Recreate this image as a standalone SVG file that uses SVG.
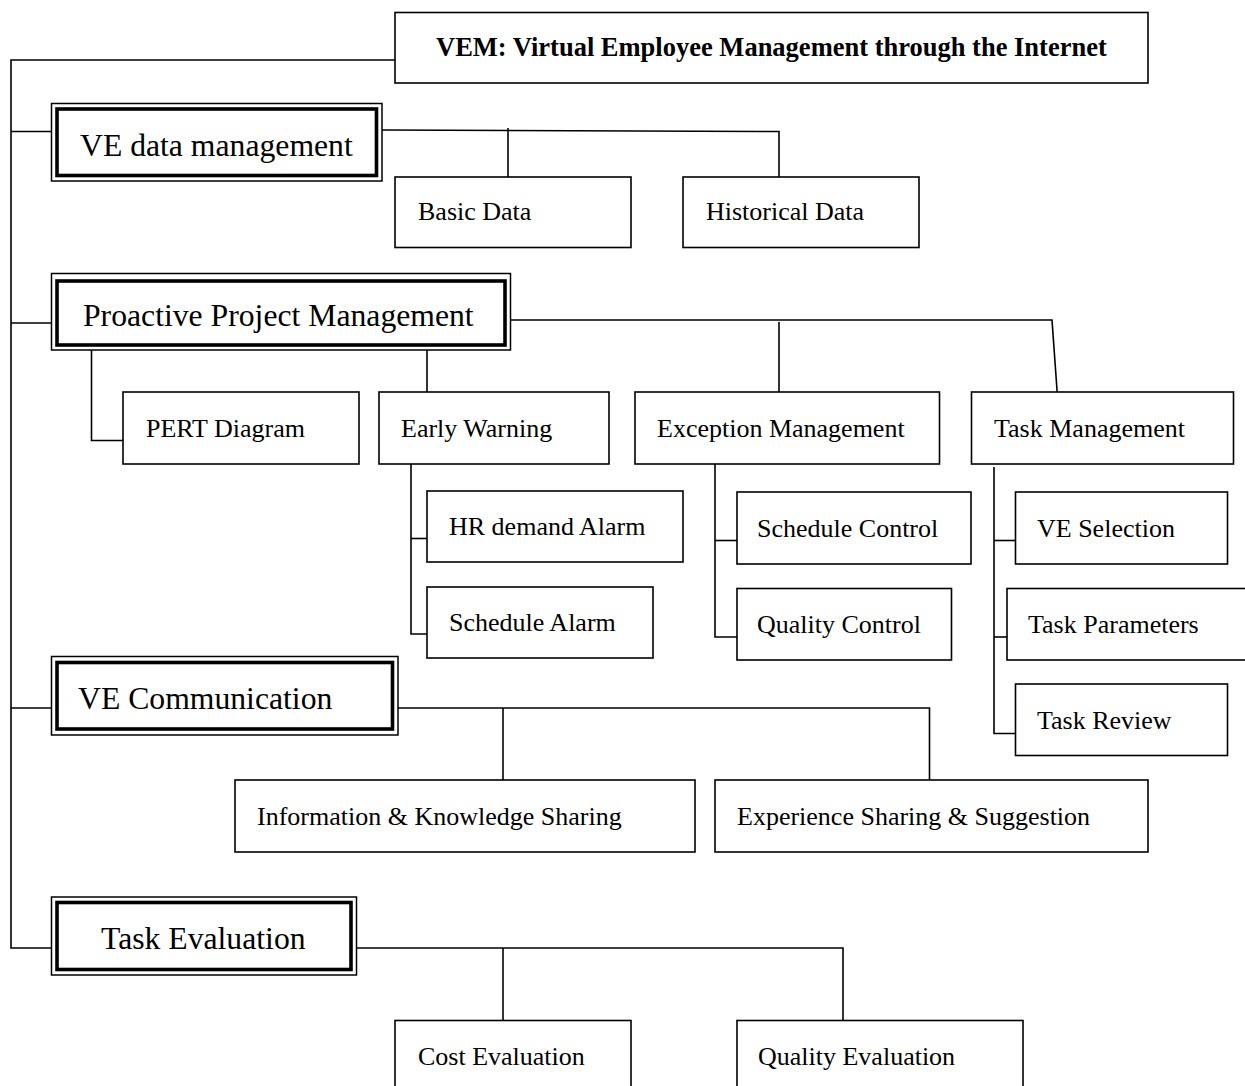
<svg xmlns="http://www.w3.org/2000/svg" width="1245" height="1086" viewBox="0 0 1245 1086">
<style>
.box{fill:#fff;stroke:#000;stroke-width:1.6}
.outer{fill:#fff;stroke:#000;stroke-width:1.5}
.thick{fill:none;stroke:#000;stroke-width:3.6}
.ln{fill:none;stroke:#000;stroke-width:1.6}
text{font-family:"Liberation Serif","Times New Roman",serif;fill:#000}
.t{font-size:26px}
.m{font-size:31.7px}
.title{font-size:26.5px;font-weight:bold}
</style>
<rect width="1245" height="1086" fill="#fff"/>
<g id="connectors">
<polyline class="ln" points="395,60 11,60 11,948 51.5,948"/>
<line class="ln" x1="11" y1="131.5" x2="51.5" y2="131.5"/>
<line class="ln" x1="11" y1="323" x2="51.5" y2="323"/>
<line class="ln" x1="11" y1="708" x2="51.5" y2="708"/>
<polyline class="ln" points="382,130 779,131.5 779,177"/>
<line class="ln" x1="508" y1="128" x2="508" y2="177"/>
<polyline class="ln" points="510,320 1052,320 1057.5,397"/>
<line class="ln" x1="779" y1="322" x2="779" y2="397"/>
<polyline class="ln" points="91.5,345 91.5,440.5 123,440.5"/>
<line class="ln" x1="427" y1="345" x2="427" y2="392"/>
<polyline class="ln" points="411,464 411,634 433,634"/>
<line class="ln" x1="411" y1="538.5" x2="433" y2="538.5"/>
<polyline class="ln" points="715,464 715,637 737,637"/>
<line class="ln" x1="715" y1="540.5" x2="737" y2="540.5"/>
<polyline class="ln" points="994,467 994,733.5 1015,733.5"/>
<line class="ln" x1="994" y1="540.5" x2="1015" y2="540.5"/>
<line class="ln" x1="994" y1="637" x2="1007" y2="637"/>
<polyline class="ln" points="398,708 929.5,708 929.5,780"/>
<line class="ln" x1="503" y1="708" x2="503" y2="780"/>
<polyline class="ln" points="357,948 843,948 843,1020"/>
<line class="ln" x1="503" y1="948" x2="503" y2="1020"/>
</g>
<g id="vem">
<rect class="box" x="395" y="12.5" width="753" height="70.5"/>
<text class="title" x="436" y="55.5">VEM: Virtual Employee Management through the Internet</text>
</g>
<g id="ve-data-management">
<rect class="outer" x="51.5" y="103.5" width="330.5" height="77.5"/>
<rect class="thick" x="57" y="109" width="319.5" height="66.5"/>
<text class="m" x="80" y="156">VE data management</text>
</g>
<g id="basic-data">
<rect class="box" x="395" y="177" width="236" height="70.5"/>
<text class="t" x="418" y="220">Basic Data</text>
</g>
<g id="historical-data">
<rect class="box" x="683" y="177" width="236" height="70.5"/>
<text class="t" x="706" y="220">Historical Data</text>
</g>
<g id="proactive-project-management">
<rect class="outer" x="51.5" y="273.5" width="459" height="76.5"/>
<rect class="thick" x="57" y="281" width="448" height="64"/>
<text class="m" x="83" y="325.5">Proactive Project Management</text>
</g>
<g id="pert-diagram">
<rect class="box" x="123" y="392" width="236" height="72"/>
<text class="t" x="146" y="437">PERT Diagram</text>
</g>
<g id="early-warning">
<rect class="box" x="379" y="392" width="230" height="72"/>
<text class="t" x="401" y="437">Early Warning</text>
</g>
<g id="exception-management">
<rect class="box" x="635" y="392" width="304.5" height="72"/>
<text class="t" x="657" y="437">Exception Management</text>
</g>
<g id="task-management">
<rect class="box" x="971.5" y="392" width="262" height="72"/>
<text class="t" x="994" y="437">Task Management</text>
</g>
<g id="hr-demand-alarm">
<rect class="box" x="427" y="491" width="256" height="71"/>
<text class="t" x="449" y="534.5">HR demand Alarm</text>
</g>
<g id="schedule-alarm">
<rect class="box" x="427" y="587" width="226" height="71"/>
<text class="t" x="449" y="631">Schedule Alarm</text>
</g>
<g id="schedule-control">
<rect class="box" x="737" y="492" width="234" height="72"/>
<text class="t" x="757" y="537">Schedule Control</text>
</g>
<g id="quality-control">
<rect class="box" x="737" y="588.5" width="214.5" height="71.5"/>
<text class="t" x="757" y="632.5">Quality Control</text>
</g>
<g id="ve-selection">
<rect class="box" x="1015.5" y="492" width="212" height="72"/>
<text class="t" x="1037" y="537">VE Selection</text>
</g>
<g id="task-parameters">
<rect class="box" x="1007" y="588.5" width="250" height="71.5"/>
<text class="t" x="1028" y="632.5">Task Parameters</text>
</g>
<g id="task-review">
<rect class="box" x="1015.5" y="684" width="212" height="71.5"/>
<text class="t" x="1037" y="728.5">Task Review</text>
</g>
<g id="ve-communication">
<rect class="outer" x="51.5" y="656.5" width="346.5" height="78.5"/>
<rect class="thick" x="57" y="662.5" width="335.5" height="66.5"/>
<text class="m" x="78" y="709">VE Communication</text>
</g>
<g id="information-knowledge-sharing">
<rect class="box" x="235" y="780" width="460" height="72"/>
<text class="t" x="257" y="825">Information &amp; Knowledge Sharing</text>
</g>
<g id="experience-sharing-suggestion">
<rect class="box" x="715" y="780" width="433" height="72"/>
<text class="t" x="737" y="825">Experience Sharing &amp; Suggestion</text>
</g>
<g id="task-evaluation">
<rect class="outer" x="51.5" y="897" width="305" height="78"/>
<rect class="thick" x="57" y="902.5" width="294" height="67"/>
<text class="m" x="101" y="948.5">Task Evaluation</text>
</g>
<g id="cost-evaluation">
<rect class="box" x="395" y="1020.5" width="236" height="80"/>
<text class="t" x="418" y="1065">Cost Evaluation</text>
</g>
<g id="quality-evaluation">
<rect class="box" x="737" y="1020.5" width="286" height="80"/>
<text class="t" x="758" y="1065">Quality Evaluation</text>
</g>
</svg>
